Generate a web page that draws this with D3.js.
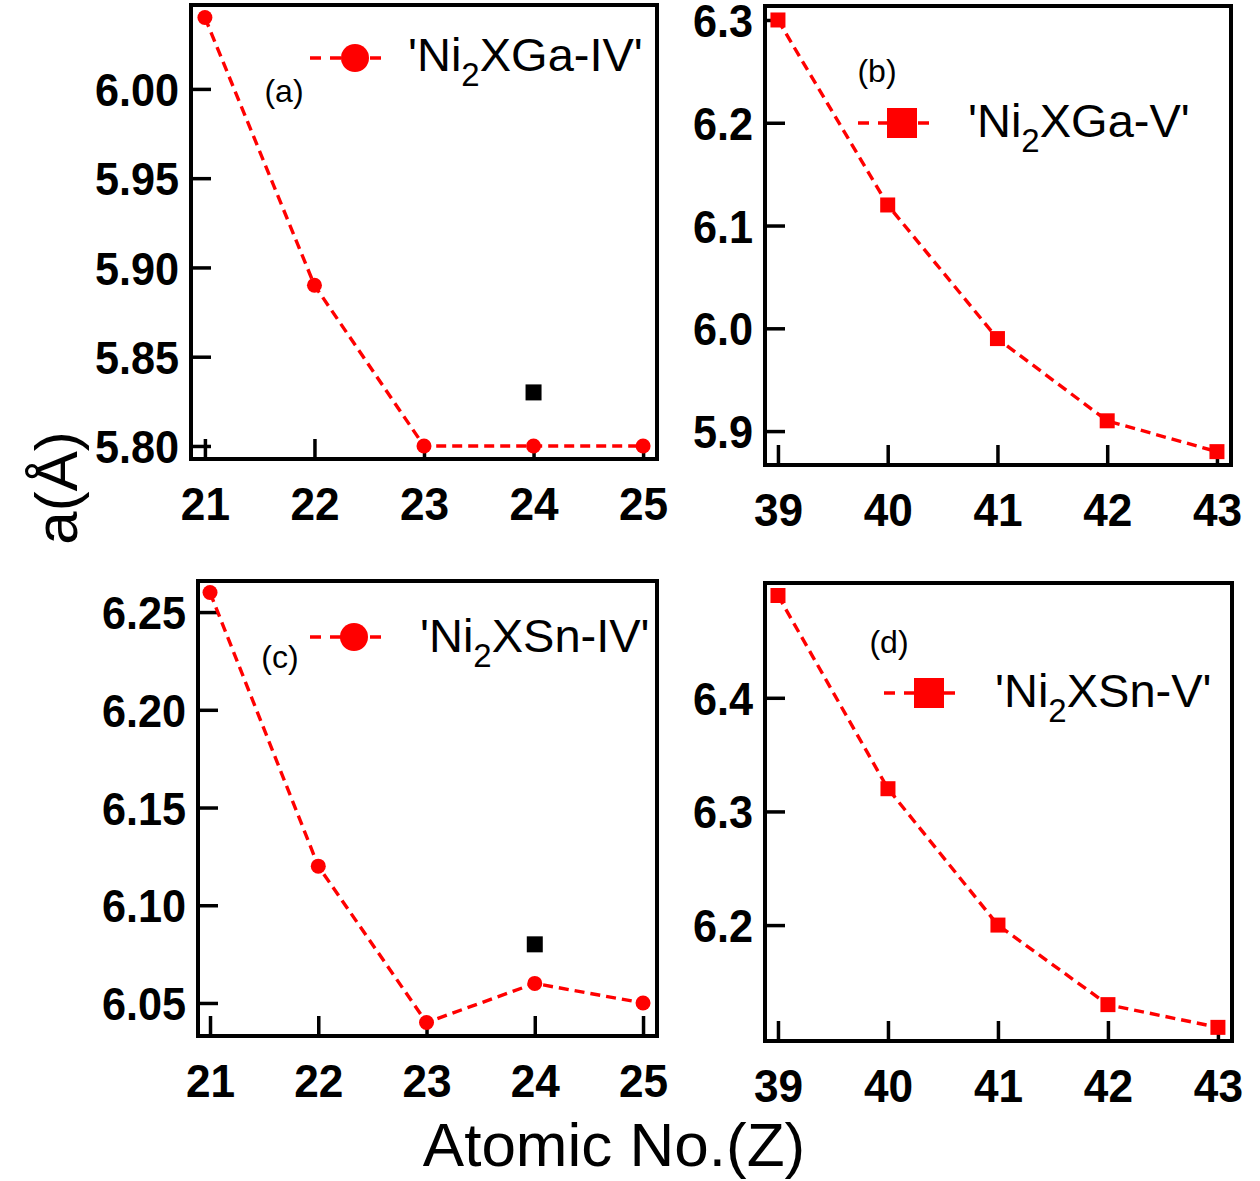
<!DOCTYPE html>
<html><head><meta charset="utf-8">
<script src="https://cdn.jsdelivr.net/npm/d3@7"></script>
<style>
html,body{margin:0;padding:0;background:#fff;}
svg{display:block;font-family:"Liberation Sans",Arial,sans-serif;}
</style></head>
<body>
<svg id="chart" width="1260" height="1181"></svg>
<script>
// ---- data ----
const zLight = [21, 22, 23, 24, 25];
const zHeavy = [39, 40, 41, 42, 43];
const aGaIV = [6.04, 5.89, 5.80, 5.80, 5.80];
const aGaV  = [6.30, 6.12, 5.99, 5.91, 5.88];
const aSnIV = [6.26, 6.12, 6.04, 6.06, 6.05];
const aSnV  = [6.49, 6.32, 6.20, 6.13, 6.11];
const zExtra = [24];
const aExtraGa = [5.83];
const aExtraSn = [6.08];
const yTicksA = [5.80, 5.85, 5.90, 5.95, 6.00];
const yTicksB = [5.9, 6.0, 6.1, 6.2, 6.3];
const yTicksC = [6.05, 6.10, 6.15, 6.20, 6.25];
const yTicksD = [6.2, 6.3, 6.4];

const RED = "#ff0000";
const SX = 0.94; // horizontal condensing of tick labels
const svg = d3.select("#chart");

const panels = [
  {frame:[191,5,657,459], xd:[20.873,25.127], yd:[5.7927,6.047], z:zLight, a:aGaIV, yt:yTicksA, fmt:".2f",
   marker:"circle", ez:zExtra, ea:aExtraGa, tag:"(a)", tagPos:[284,102],
   leg:{x1:310,x2:387,y:58,mx:355,tx:408,ty:71,name:["'Ni","2","XGa-IV'"]}},
  {frame:[765,6,1231,465], xd:[38.882,43.128], yd:[5.867,6.3136], z:zHeavy, a:aGaV, yt:yTicksB, fmt:".1f",
   marker:"square", ez:[], ea:[], tag:"(b)", tagPos:[877,82],
   leg:{x1:858,x2:934,y:123,mx:902,tx:968,ty:137,name:["'Ni","2","XGa-V'"]}},
  {frame:[198,581,657,1036], xd:[20.889,25.129], yd:[6.0331,6.2659], z:zLight, a:aSnIV, yt:yTicksC, fmt:".2f",
   marker:"circle", ez:zExtra, ea:aExtraSn, tag:"(c)", tagPos:[280,668],
   leg:{x1:310,x2:385,y:637,mx:354,tx:420,ty:652,name:["'Ni","2","XSn-IV'"]}},
  {frame:[765,583,1232,1041], xd:[38.882,43.128], yd:[6.098,6.501], z:zHeavy, a:aSnV, yt:yTicksD, fmt:".1f",
   marker:"square", ez:[], ea:[], tag:"(d)", tagPos:[889,653],
   leg:{x1:884,x2:960,y:693,mx:929,tx:995,ty:707,name:["'Ni","2","XSn-V'"]}}
];

panels.forEach(p => {
  const [L,T,R,B] = p.frame;
  const x = d3.scaleLinear().domain(p.xd).range([L,R]);
  const y = d3.scaleLinear().domain(p.yd).range([B,T]);
  const g = svg.append("g");

  // frame
  g.append("rect").attr("x",L).attr("y",T).attr("width",R-L).attr("height",B-T)
    .attr("fill","none").attr("stroke","#000").attr("stroke-width",4);

  // x axis
  const gx = g.append("g").attr("transform",`translate(0,${B})`)
    .call(d3.axisBottom(x).tickValues(p.z).tickFormat(d3.format("d")).tickSize(-20));
  gx.select(".domain").remove();
  gx.selectAll(".tick line").attr("stroke","#000").attr("stroke-width",3.5);
  gx.selectAll(".tick text").attr("y",61).attr("dy",null)
    .attr("transform",`scale(${SX},1)`)
    .attr("font-size",47).attr("font-weight","bold").attr("fill","#000")
    .attr("font-family",'"Liberation Sans",Arial,sans-serif');

  // y axis
  const gy = g.append("g").attr("transform",`translate(${L},0)`)
    .call(d3.axisLeft(y).tickValues(p.yt).tickFormat(d3.format(p.fmt)).tickSize(-20).tickPadding(13));
  gy.select(".domain").remove();
  gy.selectAll(".tick line").attr("stroke","#000").attr("stroke-width",3.5);
  gy.selectAll(".tick text").attr("x",-12/SX).attr("dy","0.36em")
    .attr("transform",`scale(${SX},1)`)
    .attr("font-size",46).attr("font-weight","bold").attr("fill","#000")
    .attr("font-family",'"Liberation Sans",Arial,sans-serif');

  // dashed line
  const pts = p.z.map((z,i)=>[z,p.a[i]]);
  g.append("path").datum(pts)
    .attr("d", d3.line().x(d=>x(d[0])).y(d=>y(d[1])))
    .attr("fill","none").attr("stroke",RED).attr("stroke-width",3.4)
    .attr("stroke-dasharray","10,6");

  // markers
  if (p.marker === "circle") {
    g.selectAll("circle.pt").data(pts).join("circle").attr("class","pt")
      .attr("cx",d=>x(d[0])).attr("cy",d=>y(d[1])).attr("r",7.5).attr("fill",RED);
  } else {
    g.selectAll("rect.pt").data(pts).join("rect").attr("class","pt")
      .attr("x",d=>x(d[0])-7.5).attr("y",d=>y(d[1])-7.5).attr("width",15).attr("height",15).attr("fill",RED);
  }

  // extra black points
  const ex = p.ez.map((z,i)=>[z,p.ea[i]]);
  g.selectAll("rect.ex").data(ex).join("rect").attr("class","ex")
    .attr("x",d=>x(d[0])-8).attr("y",d=>y(d[1])-8).attr("width",16).attr("height",16).attr("fill","#000");

  // panel tag
  g.append("text").attr("x",p.tagPos[0]).attr("y",p.tagPos[1]).attr("text-anchor","middle")
    .attr("font-size",32).attr("fill","#000").text(p.tag);

  // legend
  const lg = p.leg;
  g.append("line").attr("x1",lg.x1).attr("x2",lg.x2).attr("y1",lg.y).attr("y2",lg.y)
    .attr("stroke",RED).attr("stroke-width",3.4).attr("stroke-dasharray","11,9");
  if (p.marker === "circle") {
    g.append("circle").attr("cx",lg.mx).attr("cy",lg.y).attr("r",14).attr("fill",RED);
  } else {
    g.append("rect").attr("x",lg.mx-15).attr("y",lg.y-15).attr("width",30).attr("height",30).attr("fill",RED);
  }
  const t = g.append("text").attr("x",lg.tx).attr("y",lg.ty).attr("font-size",47).attr("fill","#000");
  t.append("tspan").text(lg.name[0]);
  t.append("tspan").attr("font-size",33).attr("dy",15).text(lg.name[1]);
  t.append("tspan").attr("dy",-15).text(lg.name[2]);
});

// axis titles
svg.append("text").attr("transform","translate(77,488) rotate(-90)")
  .attr("text-anchor","middle").attr("font-size",60).attr("fill","#000").text("a(Å)");
svg.append("text").attr("x",614).attr("y",1166)
  .attr("text-anchor","middle").attr("font-size",62).attr("fill","#000").text("Atomic No.(Z)");
</script>
</body></html>
